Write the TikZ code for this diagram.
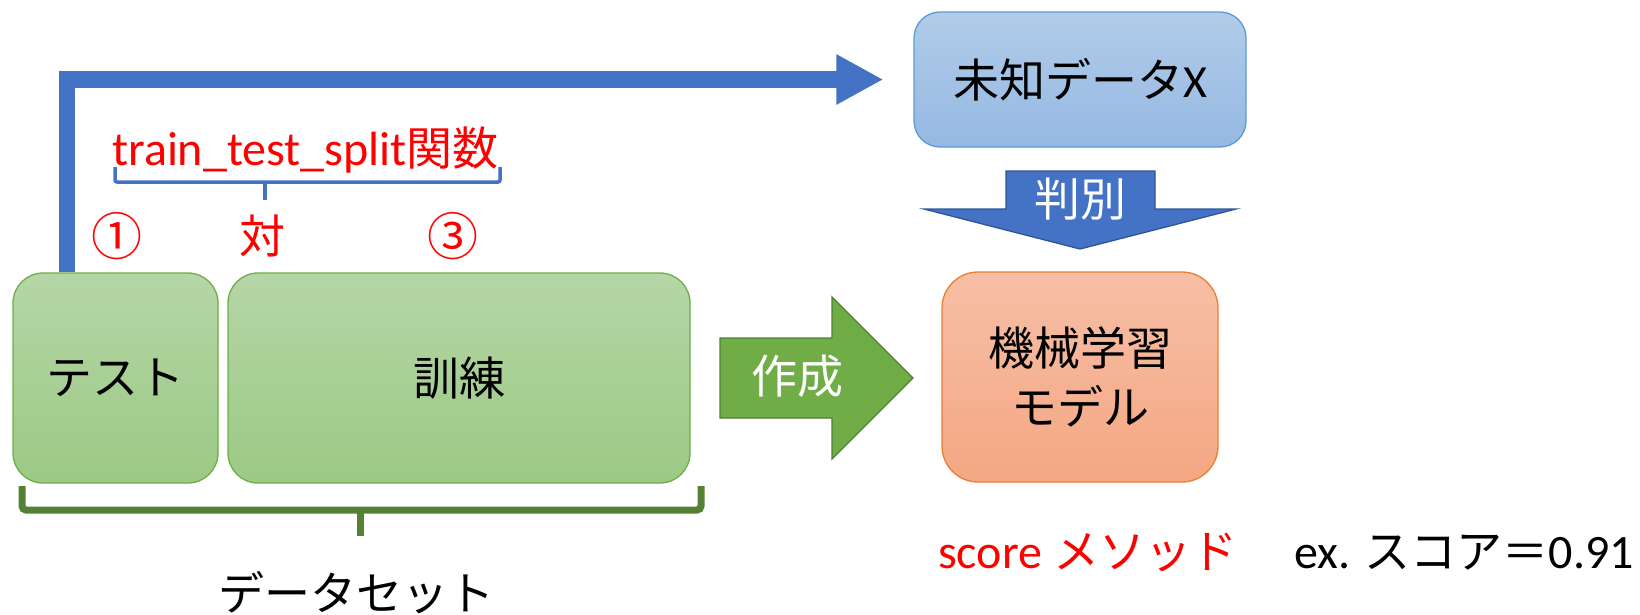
\documentclass[tikz,border=0pt]{standalone}
\usepackage{fontspec}
\setmainfont{Carlito}
\newfontfamily\cjk{Noto Sans CJK JP}
\usetikzlibrary{arrows.meta}
\definecolor{bluearrow}{HTML}{4472C4}
\definecolor{bluedark}{HTML}{2F5597}
\definecolor{blueedge}{HTML}{5B9BD5}
\definecolor{btop}{HTML}{B1CCE9}
\definecolor{bbot}{HTML}{95B8E2}
\definecolor{gtop}{HTML}{B5D6A7}
\definecolor{gbot}{HTML}{9CC984}
\definecolor{gedge}{HTML}{70AD47}
\definecolor{garrow}{HTML}{70AD47}
\definecolor{garrowedge}{HTML}{507E32}
\definecolor{bracegreen}{HTML}{548235}
\definecolor{otop}{HTML}{F7BFA6}
\definecolor{obot}{HTML}{F4A783}
\definecolor{oedge}{HTML}{ED7D31}
\definecolor{redtext}{HTML}{FF0000}
\newcommand\jpsize{\fontsize{46}{59}\selectfont}
\begin{document}
\begin{tikzpicture}[x=1pt,y=-1pt,
  jp/.style={font=\cjk\jpsize},
  latin/.style={font=\fontsize{48}{52}\selectfont},
  box/.style={jp, draw, line width=1.3pt, rounded corners=30pt, inner sep=0pt, align=center},
  greenbox/.style={box, draw=gedge, top color=gtop, bottom color=gbot},
  bluebox/.style={box, draw=blueedge, top color=btop, bottom color=bbot, rounded corners=26pt},
  orangebox/.style={box, draw=oedge, top color=otop, bottom color=obot, rounded corners=36pt},
  blockarrow/.style={line width=1.3pt, line join=miter},
  label/.style={jp, inner sep=0pt},
  redlabel/.style={label, text=redtext},
  circled/.style={redlabel, font=\cjk\fontsize{51}{59}\selectfont},
  bracepath/.style={line width=#1, line join=miter},
]
\useasboundingbox (0,0) rectangle (1640,614);

% boxes
\node[greenbox, minimum width=205pt, minimum height=210pt] (test) at (115.5,378) {テスト};
\node[greenbox, minimum width=462pt, minimum height=210pt] (train) at (459,378) {訓練};
\node[bluebox, minimum width=332pt, minimum height=135pt] (unk) at (1080,79.5) {未知データ{\rmfamily X}};
\node[orangebox, minimum width=276pt, minimum height=210pt] (model) at (1080,377) {機械学習\\モデル};

% bent blue arrow from test to unknown data
\draw[bluearrow, line width=16.5pt, line join=miter,
  -{Triangle[length=47pt,width=47pt]}, shorten >=30pt]
  ([xshift=54.5pt]test.north west) |- (unk.west);

% block arrow 判別
\draw[blockarrow, fill=bluearrow, draw=bluedark]
  (1006,171) -- (1155,171) -- (1155,209) -- (1236,209) -- (1080,249)
  -- (924,209) -- (1006,209) -- cycle;
\node[label, text=white] (hanbetsu) at (1080,199) {判別};

% block arrow 作成
\draw[blockarrow, fill=garrow, draw=garrowedge]
  (720,338) -- (832,338) -- (832,297) -- (913,378) -- (832,459)
  -- (832,418) -- (720,418) -- cycle;
\node[label, text=white] (sakusei) at (797,376) {作成};

% blue brace
\draw[bluearrow, bracepath=3.5pt, rounded corners=2pt]
  (115,167) -- (115,182) -- (500,182) -- (500,167);
\draw[bluearrow, bracepath=3.5pt] (265,182) -- (265,200);

% green brace
\draw[bracegreen, bracepath=7pt, rounded corners=4pt]
  (22,486) -- (22,510) -- (701,510) -- (701,486);
\draw[bracegreen, bracepath=7pt] (360,510) -- (360,536);

% texts
\node[redlabel, anchor=base, latin] (tts) at (305.5,165)
  {train\_test\_split{\cjk\jpsize 関数}};
\node[circled] (c1) at (117,236) {①};
\node[redlabel] (tai) at (262,236) {対};
\node[circled] (c3) at (453,236) {③};
\node[label] (dataset) at (356,593) {データセット};
\node[redlabel, anchor=base west, latin] (score) at (938,568)
  {score {\cjk\jpsize メソッド}};
\node[label, anchor=base west, latin] (ex) at (1294,568)
  {ex. {\cjk\jpsize スコア＝}0.91};
\end{tikzpicture}
\end{document}
